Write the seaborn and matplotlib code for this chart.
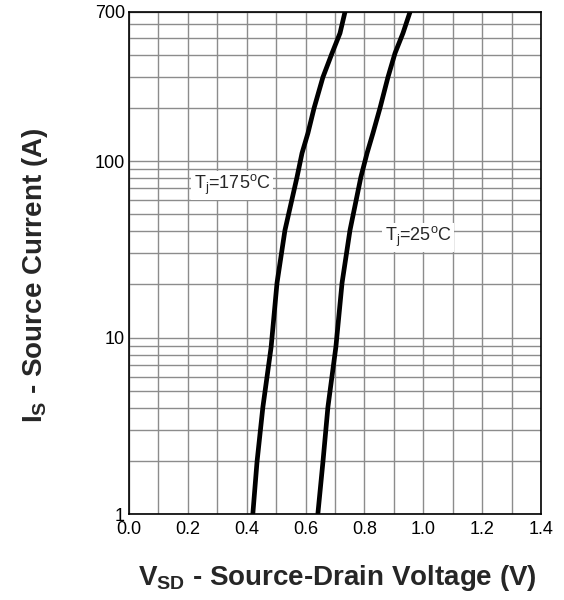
import matplotlib
matplotlib.use("Agg")
import matplotlib.pyplot as plt
import seaborn as sns
import pandas as pd
import numpy as np

# Data
current_A = [1.01, 1.97, 4.04, 8.84, 20.4, 40.6, 81.2, 111, 144, 200, 299, 409, 531, 700]
vsd_175C = [0.421, 0.435, 0.455, 0.483, 0.503, 0.530, 0.571, 0.588, 0.608, 0.629, 0.659, 0.690, 0.717, 0.734]
vsd_25C = [0.642, 0.659, 0.676, 0.703, 0.724, 0.751, 0.788, 0.809, 0.829, 0.853, 0.880, 0.904, 0.931, 0.955]
x_ticks = [0.0, 0.2, 0.4, 0.6, 0.8, 1.0, 1.2, 1.4]
y_ticks = [1, 10, 100, 700]
y_minor = [2, 3, 4, 5, 6, 7, 8, 9, 20, 30, 40, 50, 60, 70, 80, 90, 200, 300, 400, 500, 600]

df = pd.DataFrame({
    "V": vsd_175C + vsd_25C,
    "I": current_A + current_A,
    "T": ["175"] * len(current_A) + ["25"] * len(current_A),
})

sns.set_style("white")
plt.rcParams["font.family"] = ["Liberation Sans", "DejaVu Sans"]
plt.rcParams["mathtext.fontset"] = "custom"
plt.rcParams["mathtext.rm"] = "Liberation Sans"
plt.rcParams["mathtext.bf"] = "Liberation Sans:bold"

fig = plt.figure(figsize=(5.64, 6.0), dpi=100)
ax = fig.add_axes([0.2287, 0.1433, 0.9592 - 0.2287, 0.98 - 0.1433])

sns.lineplot(data=df, x="V", y="I", units="T", estimator=None, sort=False,
             color="black", linewidth=3.4, ax=ax, legend=False, zorder=5)

ax.set_yscale("log")
ax.set_xlim(0, 1.4)
ax.set_ylim(1, 700)
ax.set_xticks(x_ticks)
ax.set_xticklabels([f"{v:.1f}" for v in x_ticks])
ax.set_xticks(np.arange(0.1, 1.4, 0.2), minor=True)
ax.set_yticks(y_ticks)
ax.set_yticklabels([str(v) for v in y_ticks])
ax.set_yticks(y_minor, minor=True)
ax.yaxis.set_minor_formatter(matplotlib.ticker.NullFormatter())

ax.grid(True, which="both", color="#8c8c8c", linewidth=1.0)
ax.set_axisbelow(True)
ax.tick_params(axis="both", which="both", length=0, labelsize=13, colors="black")
ax.tick_params(axis="x", pad=5)
ax.tick_params(axis="y", pad=3)
for s in ax.spines.values():
    s.set_color("black")
    s.set_linewidth(1.2)

ax.set_xlabel(r"V$_\mathbf{SD}$ - Source-Drain Voltage (V)", fontsize=20, fontweight="bold")
ax.set_ylabel(r"I$_\mathbf{S}$ - Source Current (A)", fontsize=20, fontweight="bold")
ax.xaxis.set_label_coords(0.505, -0.127)
ax.yaxis.set_label_coords(-0.228, 0.476)
ax.xaxis.label.set_va("center")
ax.yaxis.label.set_va("center")

bbox = dict(facecolor="white", edgecolor="none", pad=1.5)
ax.text(0.35, 73, r"T$_\mathregular{j}$=175$^\mathregular{o}$C", fontsize=13, ha="center", va="center", bbox=bbox, zorder=4)
ax.text(0.982, 37, r"T$_\mathregular{j}$=25$^\mathregular{o}$C", fontsize=13, ha="center", va="center", bbox=bbox, zorder=4)

fig.savefig("out.png", dpi=100)
